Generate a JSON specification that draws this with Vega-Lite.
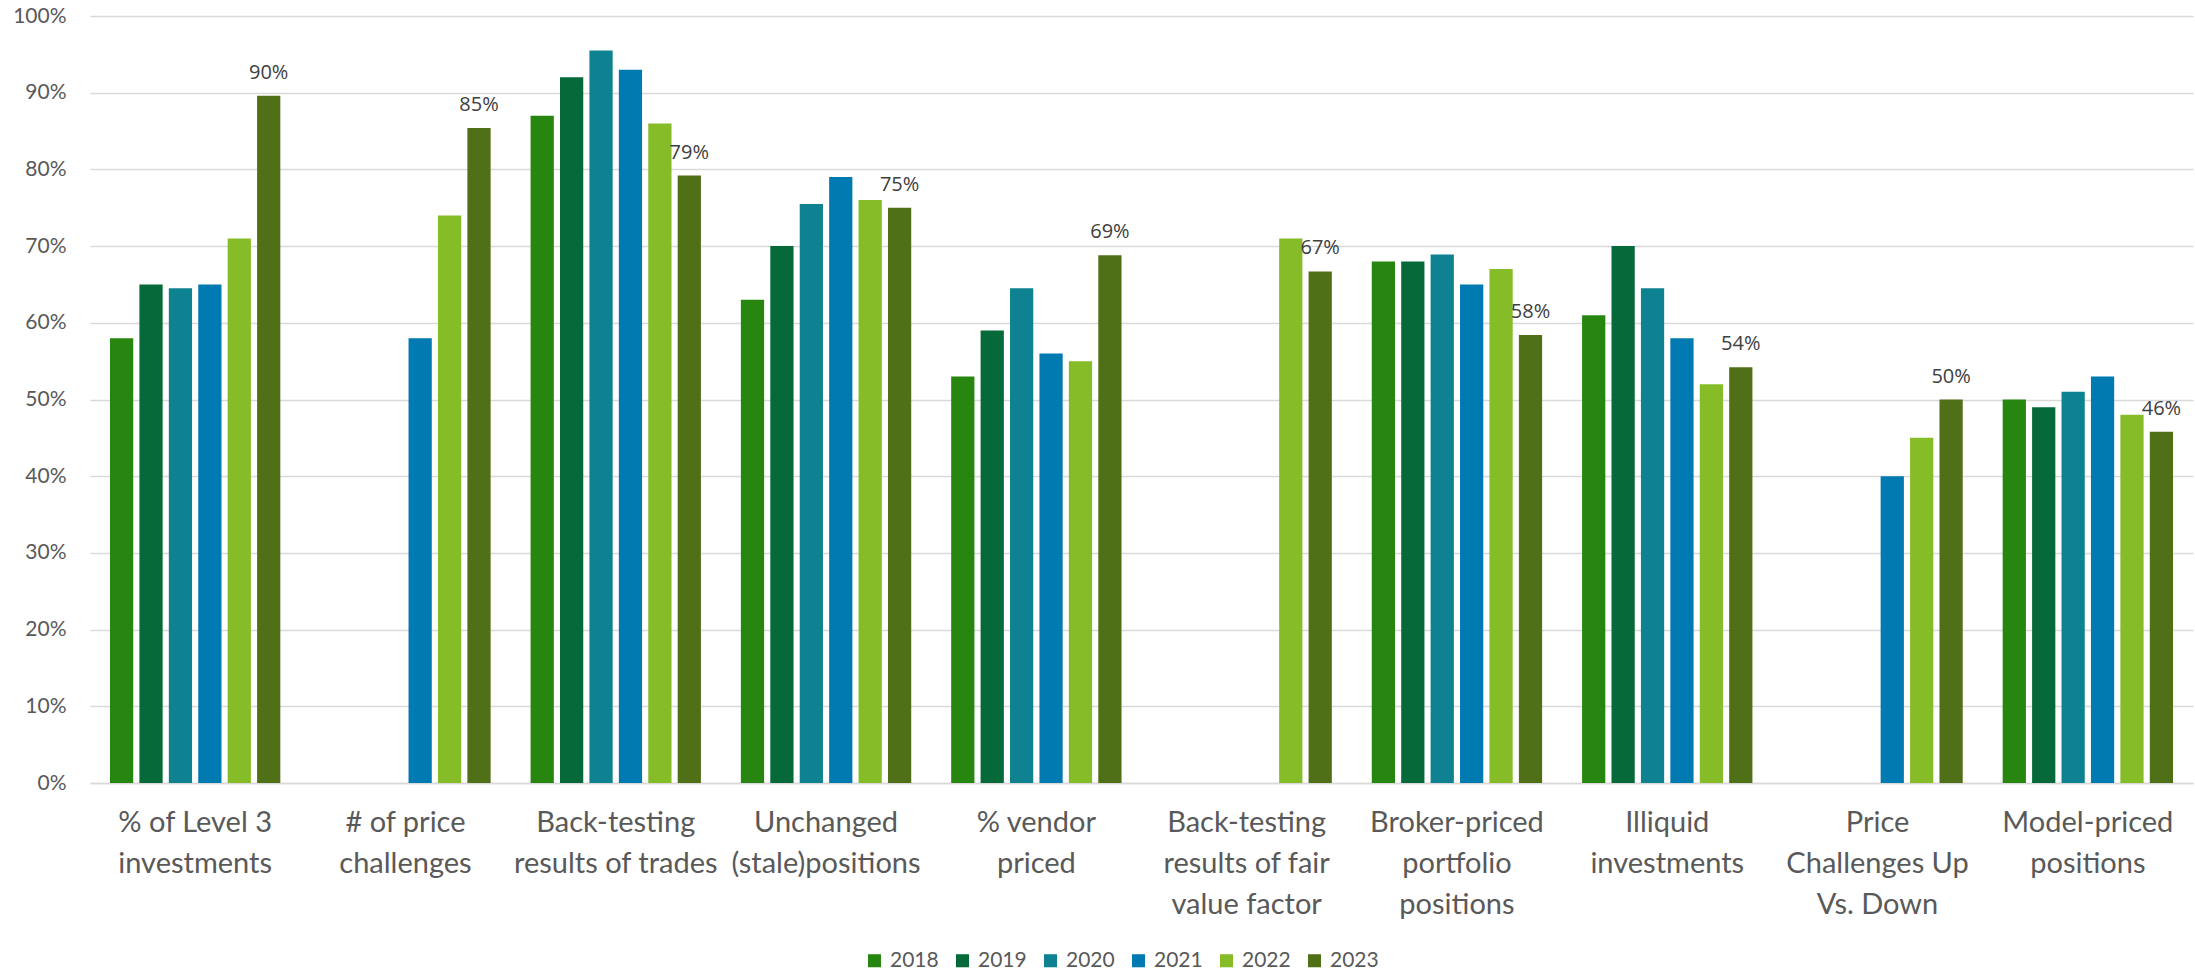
{
  "$schema": "https://vega.github.io/schema/vega-lite/v6.json",
  "width": 2103,
  "height": 767,
  "autosize": {"type": "none"},
  "padding": {"left": 90, "top": 16, "right": 2, "bottom": 190},
  "background": "white",
  "config": {"view": {"stroke": null}},
  "data": {
    "values": [
      {"cat": "% of Level 3|investments", "year": "2018", "v": 0.58},
      {"cat": "% of Level 3|investments", "year": "2019", "v": 0.65},
      {"cat": "% of Level 3|investments", "year": "2020", "v": 0.645},
      {"cat": "% of Level 3|investments", "year": "2021", "v": 0.65},
      {"cat": "% of Level 3|investments", "year": "2022", "v": 0.71},
      {"cat": "% of Level 3|investments", "year": "2023", "v": 0.896},
      {"cat": "# of price|challenges", "year": "2021", "v": 0.58},
      {"cat": "# of price|challenges", "year": "2022", "v": 0.74},
      {"cat": "# of price|challenges", "year": "2023", "v": 0.854},
      {"cat": "Back-testing|results of trades", "year": "2018", "v": 0.87},
      {"cat": "Back-testing|results of trades", "year": "2019", "v": 0.92},
      {"cat": "Back-testing|results of trades", "year": "2020", "v": 0.955},
      {"cat": "Back-testing|results of trades", "year": "2021", "v": 0.93},
      {"cat": "Back-testing|results of trades", "year": "2022", "v": 0.86},
      {"cat": "Back-testing|results of trades", "year": "2023", "v": 0.792},
      {"cat": "Unchanged|(stale)positions", "year": "2018", "v": 0.63},
      {"cat": "Unchanged|(stale)positions", "year": "2019", "v": 0.70},
      {"cat": "Unchanged|(stale)positions", "year": "2020", "v": 0.755},
      {"cat": "Unchanged|(stale)positions", "year": "2021", "v": 0.79},
      {"cat": "Unchanged|(stale)positions", "year": "2022", "v": 0.76},
      {"cat": "Unchanged|(stale)positions", "year": "2023", "v": 0.75},
      {"cat": "%  vendor|priced", "year": "2018", "v": 0.53},
      {"cat": "%  vendor|priced", "year": "2019", "v": 0.59},
      {"cat": "%  vendor|priced", "year": "2020", "v": 0.645},
      {"cat": "%  vendor|priced", "year": "2021", "v": 0.56},
      {"cat": "%  vendor|priced", "year": "2022", "v": 0.55},
      {"cat": "%  vendor|priced", "year": "2023", "v": 0.688},
      {"cat": "Back-testing|results of fair|value factor", "year": "2022", "v": 0.71},
      {"cat": "Back-testing|results of fair|value factor", "year": "2023", "v": 0.667},
      {"cat": "Broker-priced|portfolio|positions", "year": "2018", "v": 0.68},
      {"cat": "Broker-priced|portfolio|positions", "year": "2019", "v": 0.68},
      {"cat": "Broker-priced|portfolio|positions", "year": "2020", "v": 0.689},
      {"cat": "Broker-priced|portfolio|positions", "year": "2021", "v": 0.65},
      {"cat": "Broker-priced|portfolio|positions", "year": "2022", "v": 0.67},
      {"cat": "Broker-priced|portfolio|positions", "year": "2023", "v": 0.584},
      {"cat": "Illiquid|investments", "year": "2018", "v": 0.61},
      {"cat": "Illiquid|investments", "year": "2019", "v": 0.70},
      {"cat": "Illiquid|investments", "year": "2020", "v": 0.645},
      {"cat": "Illiquid|investments", "year": "2021", "v": 0.58},
      {"cat": "Illiquid|investments", "year": "2022", "v": 0.52},
      {"cat": "Illiquid|investments", "year": "2023", "v": 0.542},
      {"cat": "Price|Challenges Up|Vs. Down", "year": "2021", "v": 0.40},
      {"cat": "Price|Challenges Up|Vs. Down", "year": "2022", "v": 0.45},
      {"cat": "Price|Challenges Up|Vs. Down", "year": "2023", "v": 0.50},
      {"cat": "Model-priced|positions", "year": "2018", "v": 0.50},
      {"cat": "Model-priced|positions", "year": "2019", "v": 0.49},
      {"cat": "Model-priced|positions", "year": "2020", "v": 0.51},
      {"cat": "Model-priced|positions", "year": "2021", "v": 0.53},
      {"cat": "Model-priced|positions", "year": "2022", "v": 0.48},
      {"cat": "Model-priced|positions", "year": "2023", "v": 0.458}
    ]
  },
  "encoding": {
    "x": {
      "field": "cat", "type": "nominal", "sort": null,
      "scale": {"paddingInner": 0.19, "paddingOuter": 0.095},
      "axis": {
        "title": null, "labelAngle": 0, "ticks": false,
        "labelExpr": "split(datum.label, '|')",
        "labelFont": "Lato", "labelFontSize": 29, "labelColor": "#595959",
        "labelLineHeight": 41, "labelPadding": 25, "labelBaseline": "top",
        "labelLimit": 400, "labelOverlap": false, "labelBound": false,
        "domainColor": "#D9D9D9", "domainWidth": 1.5
      }
    },
    "xOffset": {
      "field": "year", "type": "nominal",
      "scale": {"domain": ["2018", "2019", "2020", "2021", "2022", "2023"], "paddingInner": 0.21, "paddingOuter": 0}
    },
    "y": {
      "field": "v", "type": "quantitative",
      "scale": {"domain": [0, 1], "nice": false},
      "axis": {
        "title": null, "format": ".0%", "values": [0, 0.1, 0.2, 0.3, 0.4, 0.5, 0.6, 0.7, 0.8, 0.9, 1.0],
        "labelOverlap": false,
        "domain": false, "ticks": false, "labelPadding": 24,
        "labelFont": "Lato", "labelFontSize": 21, "labelColor": "#595959",
        "gridColor": "#D9D9D9", "gridWidth": 1.5
      }
    }
  },
  "layer": [
    {
      "mark": {"type": "bar"},
      "encoding": {
        "color": {
          "field": "year", "type": "nominal",
          "scale": {
            "domain": ["2018", "2019", "2020", "2021", "2022", "2023"],
            "range": ["#26860F", "#056939", "#0E8290", "#007AB0", "#86BC28", "#507018"]
          },
          "legend": {
            "title": null, "orient": "none", "direction": "horizontal",
            "legendX": 774, "legendY": 934,
            "symbolType": "square", "symbolSize": 170, "symbolStrokeWidth": 0,
            "labelFont": "Lato", "labelFontSize": 21, "labelColor": "#595959",
            "labelOffset": 5, "columnPadding": 13
          }
        }
      }
    },
    {
      "transform": [{"filter": "datum.year == '2023'"}],
      "mark": {"type": "text", "baseline": "alphabetic", "dy": -17, "font": "Open Sans", "fontSize": 20, "color": "#404040"},
      "encoding": {
        "text": {"field": "v", "type": "quantitative", "format": ".0%"}
      }
    }
  ]
}
